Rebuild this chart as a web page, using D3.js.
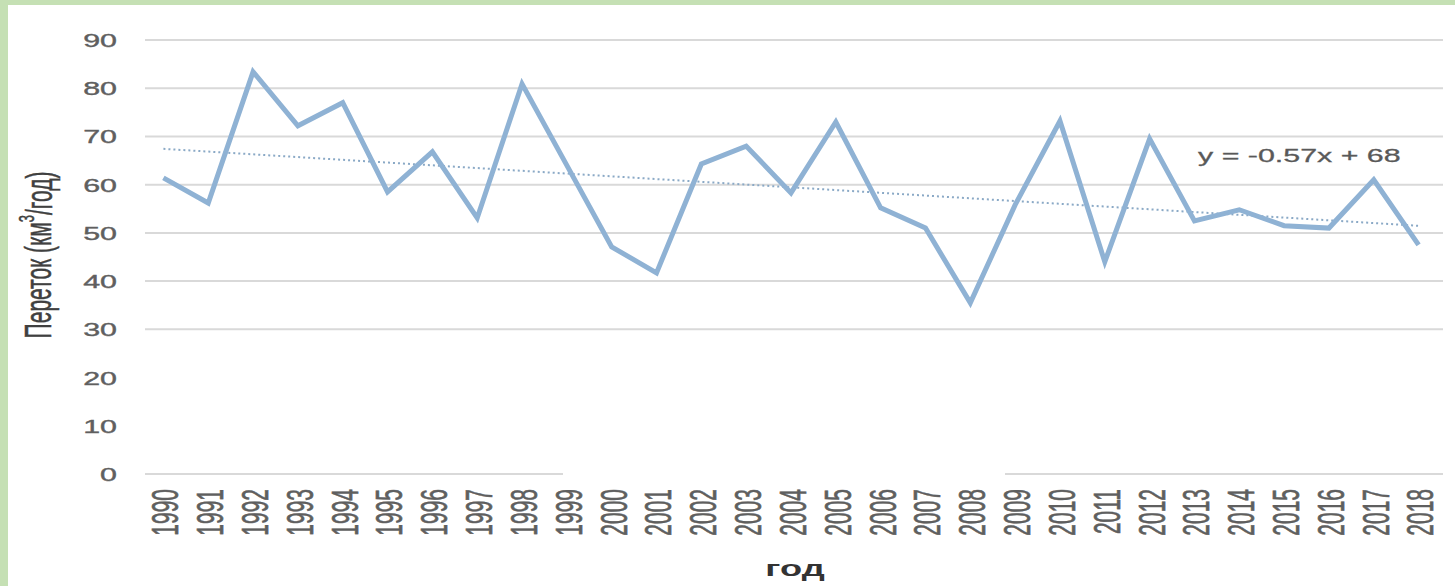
<!DOCTYPE html>
<html>
<head>
<meta charset="utf-8">
<script src="https://cdn.jsdelivr.net/npm/d3@7"></script>
<style>
  html, body { margin: 0; padding: 0; background: #fff; }
  svg { display: block; font-family: "Liberation Sans", Arial, sans-serif; }
</style>
</head>
<body>
<div id="chart"></div>
<script>
// data
const years  = d3.range(1990, 2019).map(String);
const flow   = [61.4, 56.2, 83.4, 72.2, 77.0, 58.5, 66.8, 53.1, 80.9, 64.0,
                47.1, 41.7, 64.3, 68.0, 58.3, 73.0, 55.2, 51.0, 35.5, 55.8,
                73.2, 44.0, 69.5, 52.5, 54.8, 51.5, 51.0, 61.0, 47.5];
const yTicks = [0, 10, 20, 30, 40, 50, 60, 70, 80, 90];
const trend  = { slope: -0.57, intercept: 68 };
const trendLabel = "y = -0.57x + 68";

const W = 1455, H = 586;
const SX = 1.6; // the source picture is stretched horizontally

const svg = d3.select("#chart").append("svg").attr("width", W).attr("height", H);

// green frame on the left and top
svg.append("rect").attr("x", 0).attr("y", 0).attr("width", W).attr("height", 5).attr("fill", "#c5e0b4");
svg.append("rect").attr("x", 0).attr("y", 0).attr("width", 8).attr("height", H).attr("fill", "#c5e0b4");

const x = d3.scaleBand().domain(years).range([141, 1441]);
const y = d3.scaleLinear().domain([0, 90]).range([474, 40]);
const cx = d => x(d) + x.bandwidth() / 2;

// gridlines (10 and 20 are missing in the source, the baseline has a gap)
const grid = svg.append("g").attr("stroke", "#d9d9d9").attr("stroke-width", 2);
grid.selectAll("line.g").data(yTicks.filter(t => t >= 30)).join("line")
  .attr("class", "g")
  .attr("x1", 145).attr("x2", 1443)
  .attr("y1", d => y(d)).attr("y2", d => y(d));
[[145, 563], [1005, 1443]].forEach(([a, b]) => {
  grid.append("line").attr("x1", a).attr("x2", b).attr("y1", y(0)).attr("y2", y(0));
});

// y tick labels
svg.append("g").selectAll("text").data(yTicks).join("text")
  .attr("transform", d => `translate(117,${y(d) + 7}) scale(${SX},1)`)
  .attr("text-anchor", "end")
  .attr("font-size", 19)
  .attr("fill", "#5f5f5f")
  .attr("stroke", "#5f5f5f").attr("stroke-width", 0.4)
  .text(d => d);

// x tick labels, rotated
svg.append("g").selectAll("text").data(years).join("text")
  .attr("transform", d => `translate(${cx(d) + 2},489) scale(1.75,1) rotate(-90)`)
  .attr("text-anchor", "end")
  .attr("dominant-baseline", "central")
  .attr("font-size", 21)
  .attr("fill", "#5f5f5f")
  .attr("stroke", "#5f5f5f").attr("stroke-width", 0.4)
  .text(d => d);

// axis titles
svg.append("text")
  .attr("transform", `translate(38,255) scale(1.75,1) rotate(-90)`)
  .attr("text-anchor", "middle")
  .attr("dominant-baseline", "central")
  .attr("font-size", 21)
  .attr("fill", "#404040")
  .attr("stroke", "#404040").attr("stroke-width", 0.3)
  .html('Переток (км<tspan font-size="13" dy="-7">3</tspan><tspan dy="7">/год)</tspan>');

svg.append("text")
  .attr("transform", `translate(795,576) scale(1.65,1)`)
  .attr("text-anchor", "middle")
  .attr("font-size", 22)
  .attr("font-weight", "bold")
  .attr("fill", "#333")
  .text("год");

// trend line
const tx = years.map((d, i) => [cx(d), y(trend.intercept + trend.slope * (i + 1))]);
svg.append("path")
  .attr("d", d3.line()([tx[0], tx[tx.length - 1]]))
  .attr("fill", "none")
  .attr("stroke", "#8aa9c6")
  .attr("stroke-width", 2)
  .attr("stroke-dasharray", "2,3");

// data line
svg.append("path")
  .datum(flow)
  .attr("d", d3.line().x((d, i) => cx(years[i])).y(d => y(d)))
  .attr("fill", "none")
  .attr("stroke", "#8fb2d4")
  .attr("stroke-width", 5)
  .attr("stroke-linejoin", "miter");

// trend equation
svg.append("text")
  .attr("transform", `translate(1198,162) scale(${SX},1)`)
  .attr("font-size", 19)
  .attr("fill", "#595959")
  .attr("stroke", "#595959").attr("stroke-width", 0.3)
  .text(trendLabel);
</script>
</body>
</html>
